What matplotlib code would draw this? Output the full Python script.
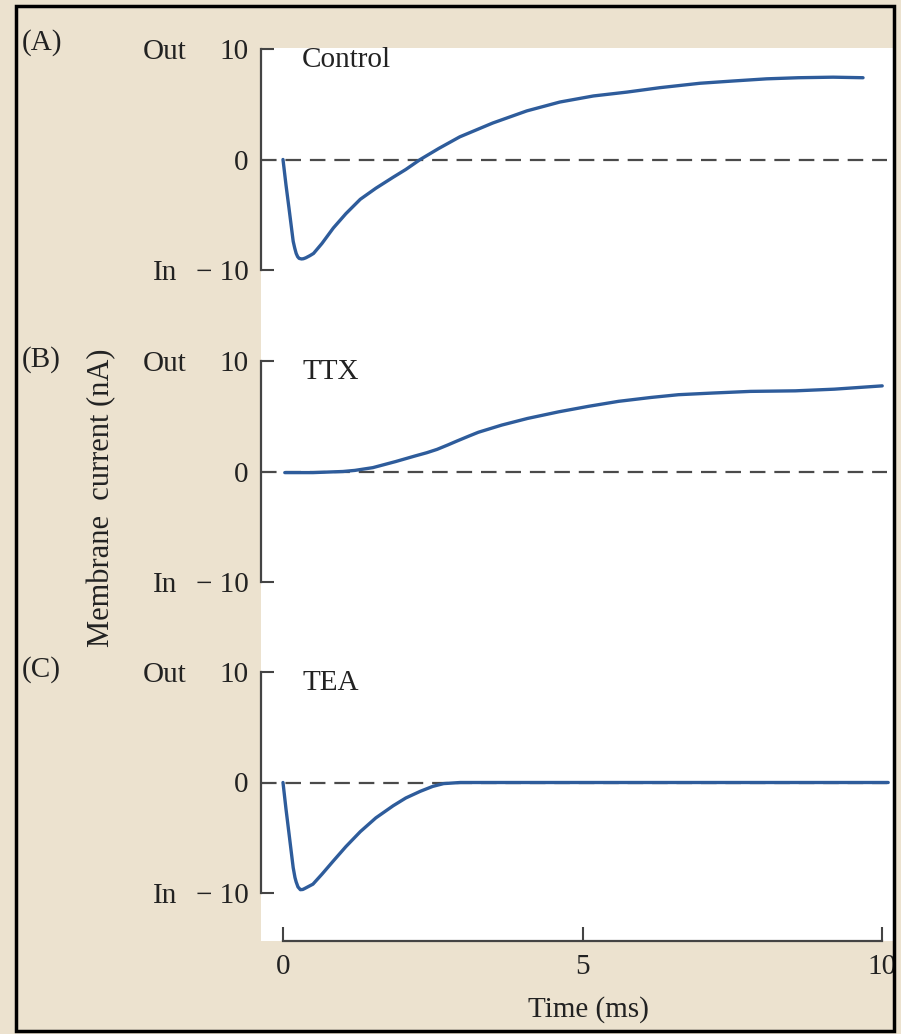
import matplotlib
matplotlib.use('Agg')
import matplotlib.pyplot as plt
from matplotlib.patches import Rectangle
from matplotlib.transforms import blended_transform_factory

# membrane current traces (time in ms, current in nA)
control_t = [0.00, 0.05, 0.10, 0.17, 0.195, 0.22, 0.245, 0.27, 0.31, 0.34, 0.38, 0.45,
             0.51, 0.65, 0.84, 1.05, 1.29, 1.55, 1.84, 2.05, 2.29, 2.60, 2.95, 3.50,
             4.07, 4.62, 5.18, 5.74, 6.29, 6.96, 7.50, 8.07, 8.60, 9.18, 9.68]
control_i = [0.0, -2.3, -4.4, -7.4, -8.0, -8.5, -8.8, -8.95, -9.0, -8.98, -8.9, -8.7,
             -8.5, -7.6, -6.2, -4.9, -3.6, -2.6, -1.6, -0.9, 0.0, 1.0, 2.05, 3.3,
             4.4, 5.2, 5.75, 6.1, 6.5, 6.9, 7.1, 7.3, 7.4, 7.45, 7.4]

ttx_t = [0.03, 0.50, 1.00, 1.20, 1.50, 1.88, 2.20, 2.40, 2.57, 2.75, 2.90, 3.10,
         3.26, 3.65, 4.08, 4.60, 5.10, 5.60, 6.14, 6.60, 7.17, 7.80, 8.55, 9.20, 10.00]
ttx_i = [-0.1, -0.1, 0.0, 0.1, 0.35, 0.9, 1.4, 1.7, 2.0, 2.4, 2.75, 3.2,
         3.55, 4.2, 4.8, 5.4, 5.9, 6.35, 6.7, 6.95, 7.1, 7.25, 7.3, 7.45, 7.75]

tea_t = [0.00, 0.05, 0.10, 0.17, 0.20, 0.22, 0.25, 0.29, 0.33, 0.36, 0.43, 0.50,
         0.65, 0.84, 1.05, 1.29, 1.55, 1.84, 2.05, 2.29, 2.50, 2.68, 2.96, 10.10]
tea_i = [0.0, -2.4, -4.6, -7.7, -8.6, -9.0, -9.45, -9.7, -9.68, -9.6, -9.4, -9.2,
         -8.3, -7.1, -5.8, -4.45, -3.2, -2.1, -1.4, -0.8, -0.35, -0.1, 0.0, 0.0]

traces = [(control_t, control_i), (ttx_t, ttx_i), (tea_t, tea_i)]
conditions = ['Control', 'TTX', 'TEA']
panel_tags = ['(A)', '(B)', '(C)']
ytick_vals = [-10, 0, 10]
ytick_labels = ['\u2212 10', '0', '10']
xtick_vals = [0, 5, 10]
xtick_labels = ['0', '5', '10']

W, H = 901, 1034
BEIGE = '#ece2cf'
TRACE = '#2e5c9b'
AXC = '#444444'
FS = 21


def fx(px):
    return px / W


def fy(py):
    return 1 - py / H


plt.rcParams['font.family'] = ['Liberation Serif', 'DejaVu Serif']
plt.rcParams['text.color'] = '#222222'

fig = plt.figure(figsize=(W / 100, H / 100), dpi=100, facecolor=BEIGE)

# white plotting area
fig.patches.append(Rectangle((fx(261), fy(941)), fx(893) - fx(261), fy(48) - fy(941),
                             transform=fig.transFigure, facecolor='white',
                             edgecolor='none', zorder=-1))

left, right = 261, 890
xlim = (-0.367, 10.13)
tops = [49, 361, 672]
tag_y = [43, 360, 670]

for k, top in enumerate(tops):
    bot = top + 221
    ax = fig.add_axes([fx(left), fy(bot), fx(right) - fx(left), fy(top) - fy(bot)])
    ax.patch.set_visible(False)
    ax.set_xlim(*xlim)
    ax.set_ylim(-10, 10)
    for s in ['top', 'right', 'bottom']:
        ax.spines[s].set_visible(False)
    ax.spines['left'].set_color(AXC)
    ax.spines['left'].set_linewidth(1.6)
    ax.set_xticks([])
    ax.set_yticks(ytick_vals)
    ax.set_yticklabels(ytick_labels)
    ax.tick_params(axis='y', direction='in', length=9, width=1.5, color=AXC,
                   pad=9, labelsize=FS, labelcolor='#222222')
    ax.yaxis.get_major_ticks()[1].tick1line.set_visible(False)

    ax.axhline(0, xmin=0, xmax=(887 - left) / (right - left), color='#4a4a4a',
               lw=1.6, ls=(0, (7, 4)), zorder=1)
    t, i = traces[k]
    ax.plot(t, i, color=TRACE, lw=2.4, solid_capstyle='round',
            solid_joinstyle='round', zorder=2)

    ax.text(0.32, 9.0, conditions[k], fontsize=FS, va='center', ha='left')

    trans = blended_transform_factory(fig.transFigure, ax.transData)
    ax.text(fx(165), 10, 'Out', transform=trans, ha='center',
            va='center_baseline', fontsize=FS)
    ax.text(fx(165), -10, 'In', transform=trans, ha='center',
            va='center_baseline', fontsize=FS)
    fig.text(fx(22), fy(tag_y[k]), panel_tags[k], ha='left', va='center', fontsize=FS)

# shared time axis
axb = fig.add_axes([fx(left), fy(941), fx(right) - fx(left), fy(900) - fy(941)])
axb.patch.set_visible(False)
axb.set_xlim(*xlim)
axb.set_ylim(0, 1)
for s in ['top', 'right', 'left']:
    axb.spines[s].set_visible(False)
axb.spines['bottom'].set_bounds(0, 10)
axb.spines['bottom'].set_color(AXC)
axb.spines['bottom'].set_linewidth(1.6)
axb.set_yticks([])
axb.set_xticks(xtick_vals)
axb.set_xticklabels(xtick_labels)
axb.tick_params(axis='x', direction='in', length=10, width=1.5, color=AXC,
                pad=9, labelsize=FS, labelcolor='#222222')

fig.text(fx(588), fy(1010), 'Time (ms)', ha='center', va='center', fontsize=FS)
fig.text(fx(102), fy(498), 'Membrane  current (nA)', rotation=90,
         ha='center', va='center', fontsize=FS + 1)

# outer frame
fig.patches.append(Rectangle((fx(16), fy(1031)), fx(894) - fx(16), fy(6) - fy(1031),
                             transform=fig.transFigure, fill=False,
                             edgecolor='black', lw=2.5, zorder=10))

fig.savefig('out.png', dpi=100, facecolor=fig.get_facecolor())
